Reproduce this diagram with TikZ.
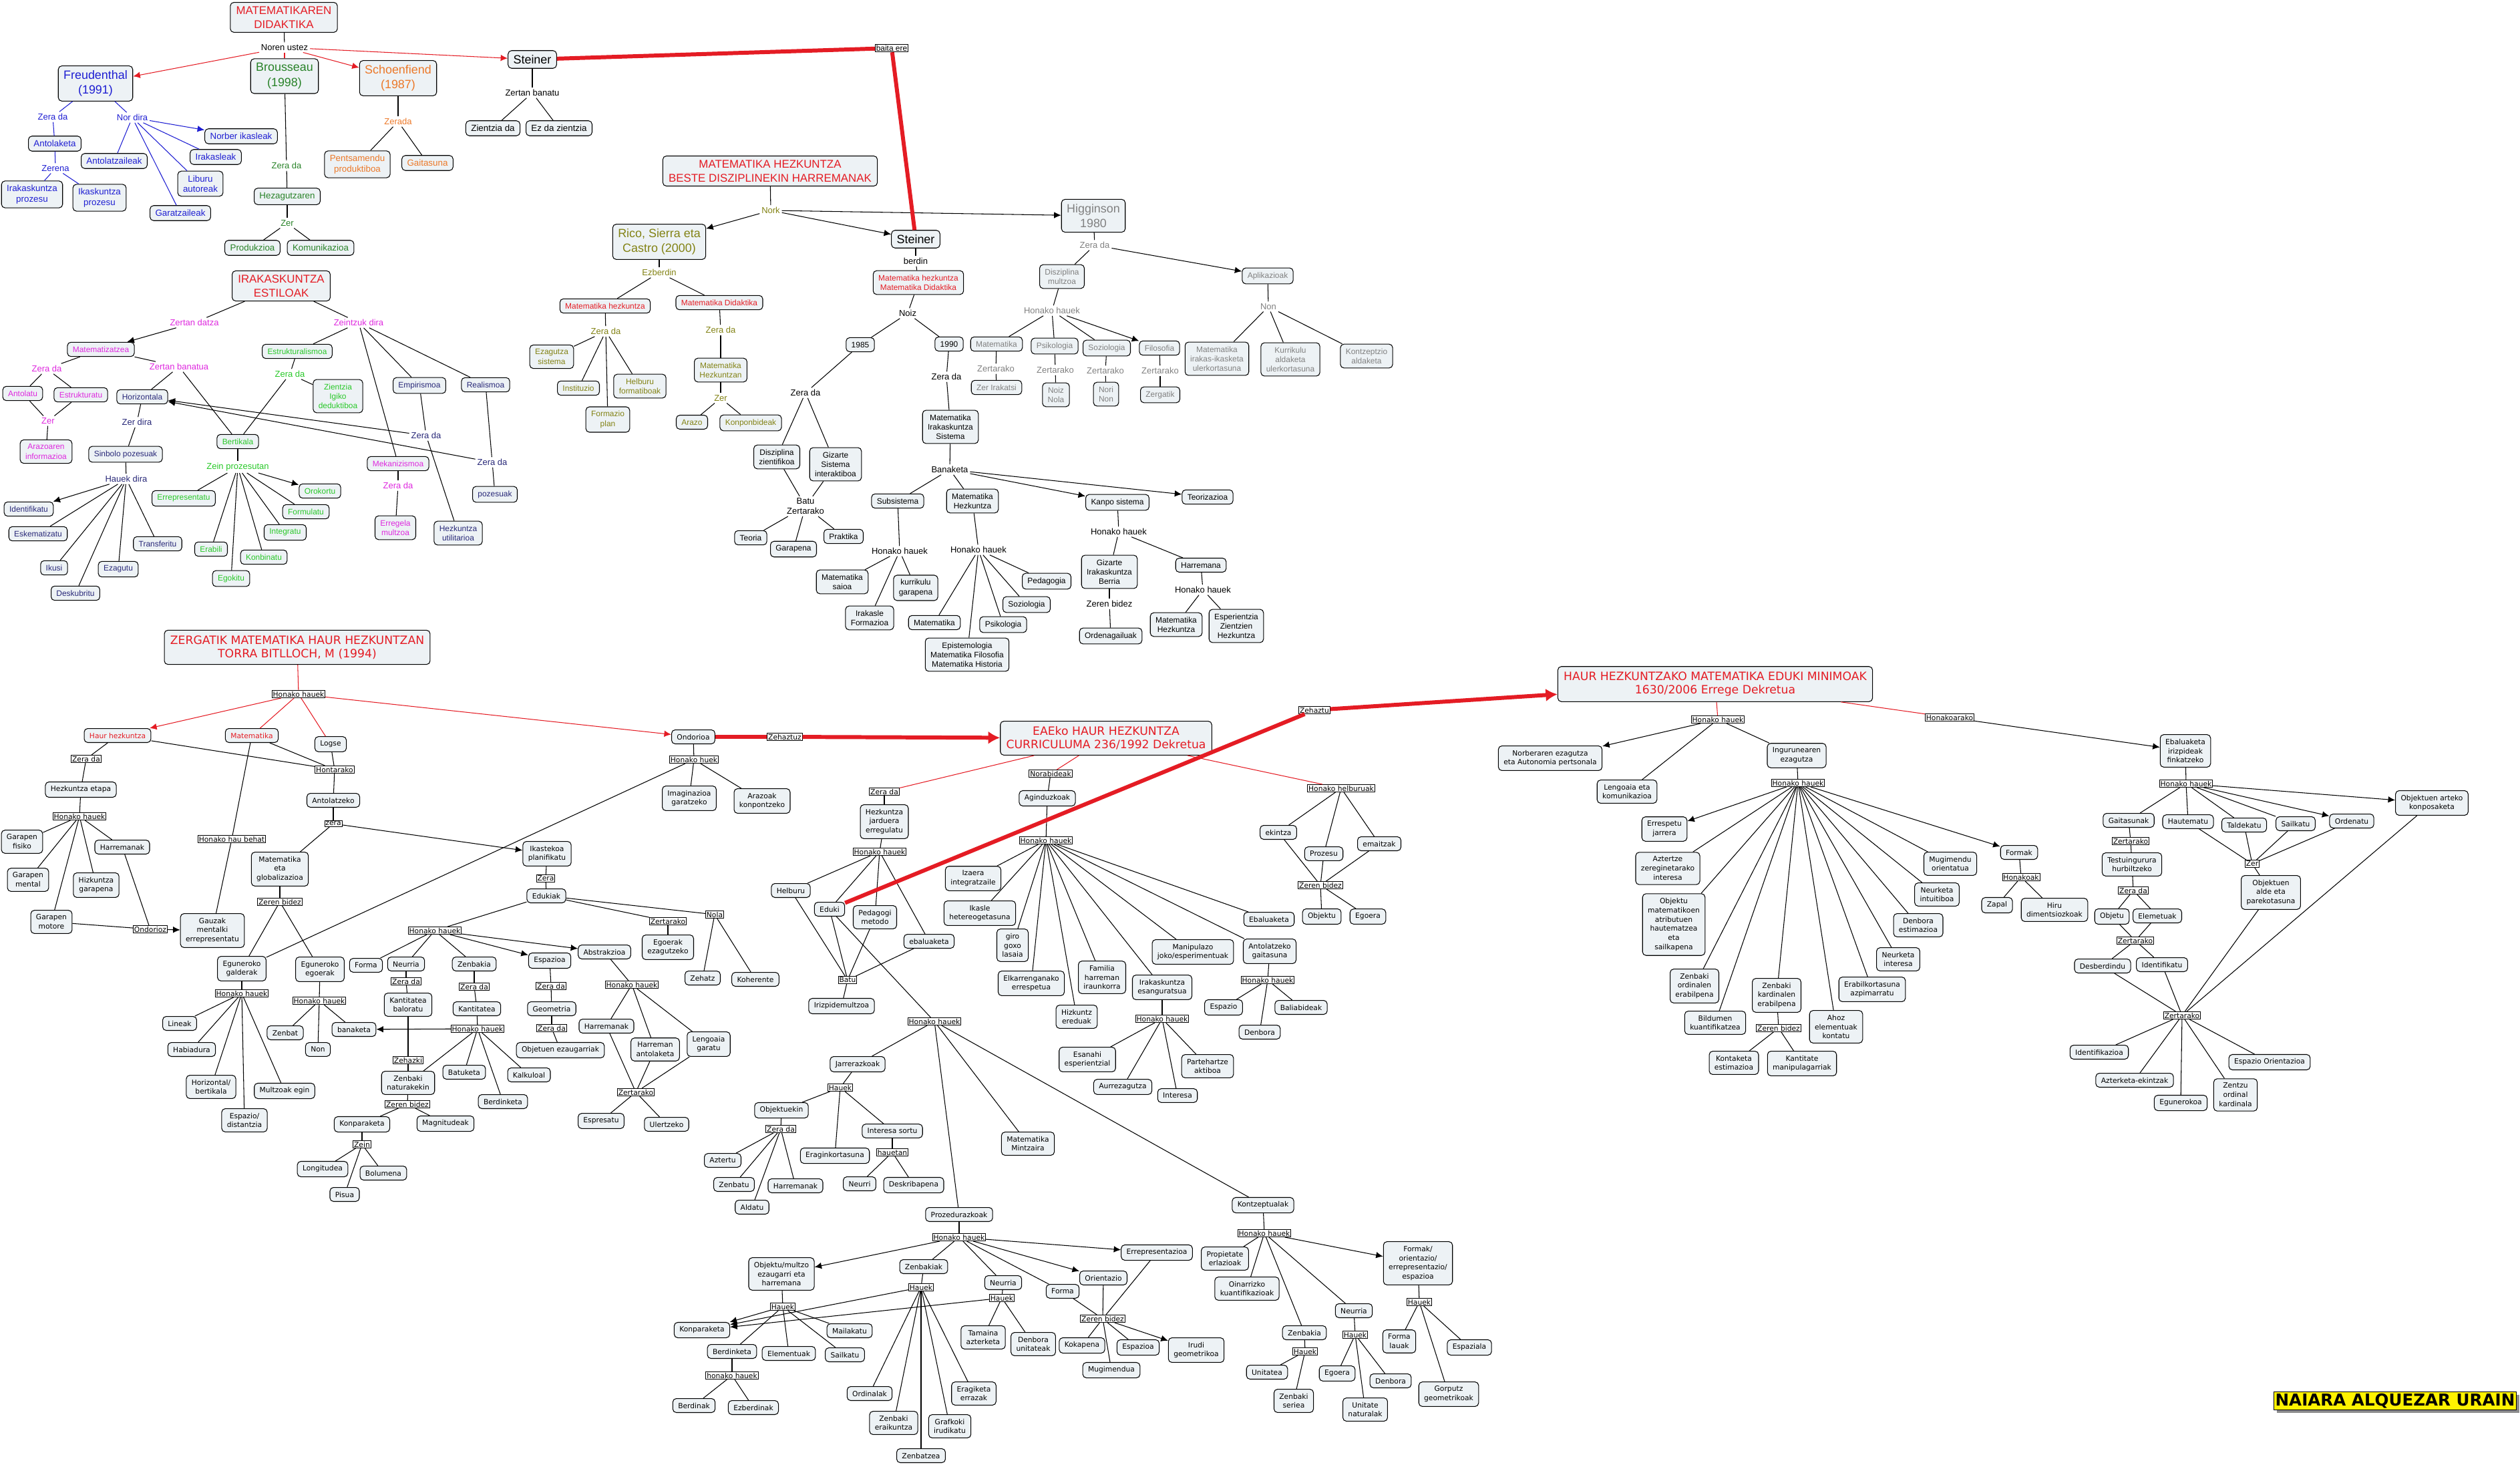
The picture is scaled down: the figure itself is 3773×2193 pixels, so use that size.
\documentclass[tikz,border=0pt]{standalone}
\usepackage{fontspec}
\setmainfont{Liberation Sans}
\newfontfamily\vfont{DejaVu Sans}
\usetikzlibrary{arrows.meta,shadows}

\definecolor{nodefill}{RGB}{237,242,245}
\definecolor{cred}{RGB}{228,28,36}
\definecolor{cblue}{RGB}{30,30,210}
\definecolor{cgreen}{RGB}{40,130,40}
\definecolor{corange}{RGB}{236,120,40}
\definecolor{colive}{RGB}{130,130,20}
\definecolor{cgray}{RGB}{128,128,128}
\definecolor{cmag}{RGB}{222,40,222}
\definecolor{clgreen}{RGB}{40,200,40}
\definecolor{cnavy}{RGB}{40,40,120}

\tikzset{
  cbox/.style={draw, line width=0.6pt, rounded corners=3pt, fill=nodefill, align=center, inner xsep=4.5pt, inner ysep=3.6pt},
  ttl/.style={cbox, text=cred, font=\fontsize{9.6}{11.9}\selectfont, inner xsep=5pt, inner ysep=3.5pt},
  vttl/.style={cbox, text=cred, font=\vfont\fontsize{9.8}{11.6}\selectfont, inner xsep=5pt, inner ysep=4.5pt},
  bigbox/.style={cbox, font=\fontsize{10.2}{12.9}\selectfont, inner ysep=3.8pt},
  sbox/.style={cbox, font=\fontsize{7.6}{8.6}\selectfont},
  nbox/.style={cbox, font=\fontsize{6.8}{8.1}\selectfont},
  vbox/.style={cbox, font=\vfont\fontsize{6.1}{7.9}\selectfont},
  lbl/.style={inner sep=1.5pt, align=center, font=\fontsize{7.4}{8.6}\selectfont},
  blbl/.style={draw, fill=white, line width=0.5pt, inner sep=0.8pt, font=\fontsize{6.8}{8}\selectfont},
  vlbl/.style={blbl, font=\vfont\fontsize{6.1}{7.5}\selectfont},
  ln/.style={line width=0.6pt},
  arr/.style={ln, -{Latex[length=6pt,width=5.5pt]}},
  rln/.style={ln, draw=cred},
  rarr/.style={rln, -{Latex[length=6pt,width=5.5pt]}},
  fat/.style={draw=cred, line width=3.4pt},
  fatarr/.style={fat, -{Latex[length=10pt,width=11pt]}},
  naiara/.style={draw, line width=0.6pt, fill=yellow, font=\vfont\bfseries\fontsize{14}{16}\selectfont, minimum width=7.25cm, minimum height=0.54cm, inner sep=0pt, drop shadow={shadow xshift=2.5pt, shadow yshift=-2.5pt, fill=black!45, opacity=1}}
}

\begin{document}
\begin{tikzpicture}[x=0.02cm, y=-0.02cm]
\useasboundingbox (0,0) rectangle (3773,2193);

\node[ttl] (md) at (425,26) {MATEMATIKAREN\\DIDAKTIKA};
\node[lbl] (nu) at (426,71) {Noren ustez};
\node[bigbox, text=cblue] (fr) at (143,125) {Freudenthal\\(1991)};
\node[bigbox, text=cgreen] (br) at (426,114) {Brousseau\\(1998)};
\node[bigbox, text=corange] (sc) at (596,117) {Schoenfiend\\(1987)};
\node[bigbox] (st1) at (797,89) {Steiner};
\node[lbl, text=cblue] (fzd) at (79,175) {Zera da};
\node[lbl, text=cblue] (fnd) at (198,176) {Nor dira};
\node[sbox, text=cblue] (antk) at (82,215) {Antolaketa};
\node[lbl, text=cblue] (zrn) at (83,252) {Zerena};
\node[sbox, text=cblue] (irp) at (48,291) {Irakaskuntza\\prozesu};
\node[sbox, text=cblue] (ikp) at (149,296) {Ikaskuntza\\prozesu};
\node[sbox, text=cblue] (nik) at (361,204) {Norber ikasleak};
\node[sbox, text=cblue] (irk) at (323,235) {Irakasleak};
\node[sbox, text=cblue] (atz) at (171,241) {Antolatzaileak};
\node[sbox, text=cblue] (lba) at (300,275) {Liburu\\autoreak};
\node[sbox, text=cblue] (grt) at (270,319) {Garatzaileak};
\node[lbl, text=cgreen] (bzd) at (429,248) {Zera da};
\node[sbox, text=cgreen] (hez) at (430,294) {Hezagutzaren};
\node[lbl, text=cgreen] (bzr) at (430,334) {Zer};
\node[sbox, text=cgreen] (prd) at (378,371) {Produkzioa};
\node[sbox, text=cgreen] (kom) at (480,371) {Komunikazioa};
\node[lbl, text=corange] (szd) at (596,182) {Zerada};
\node[sbox, text=corange] (pnt) at (535,246) {Pentsamendu\\produktiboa};
\node[sbox, text=corange] (gts) at (640,244) {Gaitasuna};
\node[lbl] (ztb) at (797,139) {Zertan banatu};
\node[sbox] (zda) at (738,192) {Zientzia da};
\node[sbox] (ezd) at (837,192) {Ez da zientzia};
\node[blbl] (bte) at (1335,72) {baita ere};

\node[ttl] (mh) at (1153,256) {MATEMATIKA HEZKUNTZA\\BESTE DISZIPLINEKIN HARREMANAK};
\node[lbl, text=colive] (nork) at (1154,315) {Nork};
\node[bigbox, text=colive] (rico) at (987,362) {Rico, Sierra eta\\Castro (2000)};
\node[bigbox] (st2) at (1371,358) {Steiner};
\node[bigbox, text=cgray] (hig) at (1637,323) {Higginson\\1980};
\node[lbl, text=colive] (ezb) at (987,408) {Ezberdin};
\node[nbox, text=cred] (mhz) at (906,458) {Matematika hezkuntza};
\node[nbox, text=cred] (mdd) at (1077,453) {Matematika Didaktika};
\node[lbl, text=colive] (rzd1) at (907,496) {Zera da};
\node[nbox, text=colive] (ezs) at (826,534) {Ezagutza\\sistema};
\node[nbox, text=colive] (ins) at (866,581) {Instituzio};
\node[nbox, text=colive] (hfo) at (958,578) {Helburu\\formatiboak};
\node[nbox, text=colive] (fpl) at (910,628) {Formazio\\plan};
\node[lbl, text=colive] (rzd2) at (1079,494) {Zera da};
\node[nbox, text=colive] (mhn) at (1079,554) {Matematika\\Hezkuntzan};
\node[lbl, text=colive] (rzr) at (1079,596) {Zer};
\node[nbox, text=colive] (arz) at (1036,632) {Arazo};
\node[nbox, text=colive] (kpb) at (1124,633) {Konponbideak};
\node[lbl] (brd) at (1371,391) {berdin};
\node[nbox, text=cred] (mhmd) at (1375,423) {Matematika hezkuntza\\Matematika Didaktika};
\node[lbl] (noiz) at (1359,469) {Noiz};
\node[nbox] (y85) at (1288,516) {1985};
\node[nbox] (y90) at (1421,515) {1990};
\node[lbl] (zd85) at (1206,588) {Zera da};
\node[nbox] (dzz) at (1163,684) {Disziplina\\zientifikoa};
\node[nbox] (gsi) at (1251,695) {Gizarte\\Sistema\\interaktiboa};
\node[lbl] (bz) at (1206,758) {Batu\\Zertarako};
\node[nbox] (teo) at (1124,805) {Teoria};
\node[nbox] (gar) at (1188,822) {Garapena};
\node[nbox] (pra) at (1263,803) {Praktika};
\node[lbl] (zd90) at (1417,564) {Zera da};
\node[nbox] (mis) at (1423,639) {Matematika\\Irakaskuntza\\Sistema};
\node[lbl] (ban) at (1422,703) {Banaketa};
\node[nbox] (sub) at (1344,750) {Subsistema};
\node[nbox] (mhz2) at (1456,750) {Matematika\\Hezkuntza};
\node[nbox] (kps) at (1673,752) {Kanpo sistema};
\node[nbox] (teor) at (1808,744) {Teorizazioa};
\node[lbl] (shh) at (1347,825) {Honako hauek};
\node[nbox] (msa) at (1261,871) {Matematika\\saioa};
\node[nbox] (kga) at (1371,880) {kurrikulu\\garapena};
\node[nbox] (ifo) at (1302,925) {Irakasle\\Formazioa};
\node[lbl] (mhh) at (1465,823) {Honako hauek};
\node[nbox] (ped) at (1567,870) {Pedagogia};
\node[nbox] (soz) at (1537,905) {Soziologia};
\node[nbox] (psi) at (1502,935) {Psikologia};
\node[nbox] (mat) at (1399,932) {Matematika};
\node[nbox] (epi) at (1448,980) {Epistemologia\\Matematika Filosofia\\Matematika Historia};
\node[lbl] (khh) at (1675,796) {Honako hauek};
\node[nbox] (gib) at (1661,856) {Gizarte\\Irakaskuntza\\Berria};
\node[lbl] (kzb) at (1661,904) {Zeren bidez};
\node[nbox] (ord) at (1663,952) {Ordenagailuak};
\node[nbox] (har) at (1798,846) {Harremana};
\node[lbl] (hhh) at (1801,883) {Honako hauek};
\node[nbox] (mhz3) at (1761,935) {Matematika\\Hezkuntza};
\node[nbox] (ezh) at (1851,937) {Esperientzia\\Zientzien\\Hezkuntza};
\node[lbl, text=cgray] (hzd) at (1639,367) {Zera da};
\node[nbox, text=cgray] (dmu) at (1590,414) {Disziplina\\multzoa};
\node[nbox, text=cgray] (apl) at (1898,413) {Aplikazioak};
\node[lbl, text=cgray] (hhk) at (1575,465) {Honako hauek};
\node[nbox, text=cgray] (hmat) at (1492,515) {Matematika};
\node[nbox, text=cgray] (hpsi) at (1579,518) {Psikologia};
\node[nbox, text=cgray] (hsoz) at (1657,521) {Soziologia};
\node[nbox, text=cgray] (hfil) at (1736,521) {Filosofia};
\node[lbl, text=cgray] (zt1) at (1491,552) {Zertarako};
\node[lbl, text=cgray] (zt2) at (1580,554) {Zertarako};
\node[lbl, text=cgray] (zt3) at (1655,555) {Zertarako};
\node[lbl, text=cgray] (zt4) at (1737,555) {Zertarako};
\node[nbox, text=cgray] (zir) at (1492,580) {Zer Irakatsi};
\node[nbox, text=cgray] (nno) at (1581,591) {Noiz\\Nola};
\node[nbox, text=cgray] (nnn) at (1656,590) {Nori\\Non};
\node[nbox, text=cgray] (zgt) at (1737,591) {Zergatik};
\node[lbl, text=cgray] (non) at (1899,459) {Non};
\node[nbox, text=cgray] (mik) at (1822,537) {Matematika\\irakas-ikasketa\\ulerkortasuna};
\node[nbox, text=cgray] (kal) at (1932,538) {Kurrikulu\\aldaketa\\ulerkortasuna};
\node[nbox, text=cgray] (kta) at (2046,533) {Kontzeptzio\\aldaketa};

\node[ttl] (ie) at (421,428) {IRAKASKUNTZA\\ESTILOAK};
\node[lbl, text=cmag] (ztd) at (291,483) {Zertan datza};
\node[lbl, text=cmag] (zkd) at (537,483) {Zeintzuk dira};
\node[nbox, text=cmag] (mtz) at (151,523) {Matematizatzea};
\node[lbl, text=cmag] (mzd) at (70,552) {Zera da};
\node[lbl, text=cmag] (ztb2) at (268,549) {Zertan banatua};
\node[nbox, text=cmag] (ant) at (34,589) {Antolatu};
\node[nbox, text=cmag] (est) at (121,591) {Estrukturatu};
\node[lbl, text=cmag] (mzr) at (72,630) {Zer};
\node[nbox, text=cmag] (arin) at (69,676) {Arazoaren\\informazioa};
\node[nbox, text=cnavy] (hor) at (213,594) {Horizontala};
\node[lbl, text=cnavy] (zdi) at (205,632) {Zer dira};
\node[nbox, text=cnavy] (sp) at (188,680) {Sinbolo pozesuak};
\node[lbl, text=cnavy] (hd) at (189,717) {Hauek dira};
\node[nbox, text=cnavy] (idf) at (43,762) {Identifikatu};
\node[nbox, text=cnavy] (esk) at (57,799) {Eskematizatu};
\node[nbox, text=cnavy] (iku) at (81,850) {Ikusi};
\node[nbox, text=cnavy] (eza) at (177,852) {Ezagutu};
\node[nbox, text=cnavy] (dsk) at (113,888) {Deskubritu};
\node[nbox, text=cnavy] (trf) at (236,814) {Transferitu};
\node[nbox, text=clgreen] (estr) at (445,526) {Estrukturalismoa};
\node[lbl, text=clgreen] (gzd) at (434,560) {Zera da};
\node[nbox, text=clgreen] (zid) at (506,593) {Zientzia\\Igiko\\deduktiboa};
\node[nbox, text=clgreen] (ber) at (356,661) {Bertikala};
\node[lbl, text=clgreen] (zpr) at (356,699) {Zein prozesutan};
\node[nbox, text=clgreen] (err) at (275,746) {Errepresentatu};
\node[nbox, text=clgreen] (oro) at (479,735) {Orokortu};
\node[nbox, text=clgreen] (frm) at (458,766) {Formulatu};
\node[nbox, text=clgreen] (int) at (427,797) {Integratu};
\node[nbox, text=clgreen] (era) at (316,822) {Erabili};
\node[nbox, text=clgreen] (kon) at (395,834) {Konbinatu};
\node[nbox, text=clgreen] (ego) at (346,866) {Egokitu};
\node[nbox, text=cnavy] (emp) at (628,577) {Empirismoa};
\node[nbox, text=cnavy] (rea) at (727,576) {Realismoa};
\node[nbox, text=cmag] (mek) at (596,694) {Mekanizismoa};
\node[lbl, text=cmag] (kzd) at (596,727) {Zera da};
\node[nbox, text=cmag] (erm) at (592,790) {Erregela\\multzoa};
\node[lbl, text=cnavy] (ezd1) at (638,652) {Zera da};
\node[nbox, text=cnavy] (hut) at (686,798) {Hezkuntza\\utilitarioa};
\node[lbl, text=cnavy] (ezd2) at (737,692) {Zera da};
\node[nbox, text=cnavy] (poz) at (741,740) {pozesuak};

\node[vttl] (zg) at (445,969) {ZERGATIK MATEMATIKA HAUR HEZKUNTZAN\\TORRA BITLLOCH, M (1994)};
\node[vlbl] (zhh) at (447,1039) {Honako hauek};
\node[vbox, text=cred] (hh) at (176,1101) {Haur hezkuntza};
\node[vbox, text=cred] (zmat) at (377,1101) {Matematika};
\node[vbox] (lgs) at (495,1114) {Logse};
\node[vbox] (ondo) at (1038,1103) {Ondorioa};
\node[vlbl] (hta) at (501,1152) {Hontarako};
\node[vbox] (atk) at (499,1198) {Antolatzeko};
\node[vlbl] (zera) at (499,1233) {zera};
\node[vlbl] (zzd) at (129,1136) {Zera da};
\node[vbox] (het) at (121,1182) {Hezkuntza etapa};
\node[vlbl] (hhk2) at (119,1222) {Honako hauek};
\node[vbox] (gfi) at (33,1260) {Garapen\\fisiko};
\node[vbox] (gme) at (42,1317) {Garapen\\mental};
\node[vbox] (hga) at (144,1325) {Hizkuntza\\garapena};
\node[vbox] (hrm) at (183,1268) {Harremanak};
\node[vbox] (gmo) at (77,1380) {Garapen\\motore};
\node[vlbl] (ondz) at (225,1391) {Ondorioz};
\node[vbox] (gme2) at (318,1393) {Gauzak\\mentalki\\errepresentatu};
\node[vlbl] (hhb) at (347,1256) {Honako hau behat};
\node[vbox] (meg) at (419,1301) {Matematika\\eta\\globalizazioa};
\node[vlbl] (zb1) at (419,1350) {Zeren bidez};
\node[vbox] (egg) at (362,1450) {Eguneroko\\galderak};
\node[vbox] (ege) at (479,1451) {Eguneroko\\egoerak};
\node[vlbl] (ghh) at (362,1487) {Honako hauek};
\node[vbox] (lin) at (269,1532) {Lineak};
\node[vbox] (hab) at (287,1571) {Habiadura};
\node[vbox] (hbe) at (316,1627) {Horizontal/\\bertikala};
\node[vbox] (edi) at (366,1677) {Espazio/\\distantzia};
\node[vbox] (mue) at (426,1633) {Multzoak egin};
\node[vlbl] (ehh) at (478,1498) {Honako hauek};
\node[vbox] (zbt) at (427,1546) {Zenbat};
\node[vbox] (non2) at (476,1571) {Non};
\node[vbox] (bnk) at (530,1541) {banaketa};
\node[vlbl] (ohk) at (1039,1137) {Honako huek};
\node[vbox] (img) at (1032,1195) {Imaginazioa\\garatzeko};
\node[vbox] (akp) at (1141,1199) {Arazoak\\konpontzeko};
\node[vbox] (ikp2) at (819,1278) {Ikastekoa\\planifikatu};
\node[vlbl] (zera2) at (817,1315) {Zera};
\node[vbox] (edk) at (818,1341) {Edukiak};
\node[vlbl] (ehk) at (651,1393) {Honako hauek};
\node[vlbl] (ezt) at (1000,1379) {Zertarako};
\node[vlbl] (nola) at (1070,1369) {Nola};
\node[vbox] (eez) at (1000,1418) {Egoerak\\ezagutzeko};
\node[vbox] (zht) at (1052,1464) {Zehatz};
\node[vbox] (koh) at (1131,1466) {Koherente};
\node[vbox] (fma) at (548,1445) {Forma};
\node[vbox] (neu) at (608,1443) {Neurria};
\node[vbox] (zbk) at (710,1443) {Zenbakia};
\node[vbox] (esp) at (823,1438) {Espazioa};
\node[vbox] (abs) at (905,1425) {Abstrakzioa};
\node[vlbl] (nzd) at (608,1469) {Zera da};
\node[vbox] (kba) at (611,1504) {Kantitatea\\baloratu};
\node[vlbl] (kzd2) at (710,1477) {Zera da};
\node[vbox] (ktt) at (714,1510) {Kantitatea};
\node[vlbl] (khk) at (715,1540) {Honako hauek};
\node[vbox] (btk) at (695,1605) {Batuketa};
\node[vbox] (klk) at (792,1609) {Kalkuloal};
\node[vbox] (bdk) at (753,1649) {Berdinketa};
\node[vlbl] (zhz) at (611,1587) {Zehazki};
\node[vbox] (znt) at (611,1621) {Zenbaki\\naturakekin};
\node[vlbl] (zb2) at (610,1653) {Zeren bidez};
\node[vbox] (kpr) at (542,1683) {Konparaketa};
\node[vbox] (mgn) at (667,1682) {Magnitudeak};
\node[vlbl] (zein) at (542,1713) {Zein};
\node[vbox] (lng) at (483,1750) {Longitudea};
\node[vbox] (pis) at (516,1788) {Pisua};
\node[vbox] (bol) at (574,1756) {Bolumena};
\node[vlbl] (ezd3) at (825,1476) {Zera da};
\node[vbox] (geo) at (826,1510) {Geometria};
\node[vlbl] (gzd2) at (826,1539) {Zera da};
\node[vbox] (obe) at (839,1572) {Objetuen ezaugarriak};
\node[vlbl] (ahk) at (946,1474) {Honako hauek};
\node[vbox] (ahr) at (908,1536) {Harremanak};
\node[vbox] (han) at (981,1571) {Harreman\\antolaketa};
\node[vbox] (lgg) at (1061,1563) {Lengoaia\\garatu};
\node[vlbl] (azt) at (952,1635) {Zertarako};
\node[vbox] (esr) at (900,1678) {Espresatu};
\node[vbox] (ulr) at (998,1683) {Ulertzeko};

\node[vlbl] (zhtz) at (1175,1103) {Zehaztuz};
\node[vttl] (eae) at (1656,1105) {EAEko HAUR HEZKUNTZA\\CURRICULUMA 236/1992 Dekretua};
\node[vlbl] (ezd4) at (1324,1185) {Zera da};
\node[vbox] (hje) at (1324,1230) {Hezkuntza\\jarduera\\erregulatu};
\node[vlbl] (jhh) at (1317,1275) {Honako hauek};
\node[vbox] (hlb) at (1184,1333) {Helburu};
\node[vbox] (edu) at (1242,1361) {Eduki};
\node[vbox] (pme) at (1310,1373) {Pedagogi\\metodo};
\node[vbox] (eba) at (1391,1409) {ebaluaketa};
\node[vlbl] (batu) at (1269,1467) {Batu};
\node[vbox] (irz) at (1260,1506) {Irizpidemultzoa};
\node[vlbl] (dhh) at (1399,1529) {Honako hauek};
\node[vlbl] (nrb) at (1573,1158) {Norabideak};
\node[vbox] (agi) at (1568,1195) {Aginduzkoak};
\node[vlbl] (ahh) at (1566,1258) {Honako hauek};
\node[vbox] (izi) at (1457,1315) {Izaera\\integratzaile};
\node[vbox] (ikh) at (1467,1367) {Ikasle\\hetereogetasuna};
\node[vbox] (ggl) at (1516,1415) {giro\\goxo\\lasaia};
\node[vbox] (elk) at (1544,1472) {Elkarrenganako\\errespetua};
\node[vbox] (hze) at (1612,1522) {Hizkuntz\\ereduak};
\node[vbox] (fhi) at (1650,1463) {Familia\\harreman\\iraunkorra};
\node[vbox] (ies) at (1740,1478) {Irakaskuntza\\esanguratsua};
\node[vbox] (mje) at (1786,1425) {Manipulazo\\joko/esperimentuak};
\node[vlbl] (ihh) at (1740,1525) {Honako hauek};
\node[vbox] (ese) at (1628,1586) {Esanahi\\esperientzial};
\node[vbox] (aur) at (1681,1627) {Aurrezagutza};
\node[vbox] (itr) at (1763,1640) {Interesa};
\node[vbox] (pak) at (1808,1596) {Partehartze\\aktiboa};

\node[vbox] (jar) at (1284,1593) {Jarrerazkoak};
\node[vlbl] (jhk) at (1258,1628) {Hauek};
\node[vbox] (obk) at (1170,1662) {Objektuekin};
\node[vlbl] (ozd) at (1169,1690) {Zera da};
\node[vbox] (erg) at (1250,1730) {Eraginkortasuna};
\node[vbox] (iso) at (1336,1693) {Interesa sortu};
\node[vlbl] (hau) at (1336,1725) {hauetan};
\node[vbox] (azr) at (1082,1737) {Aztertu};
\node[vbox] (zbu) at (1099,1773) {Zenbatu};
\node[vbox] (hrm2) at (1191,1775) {Harremanak};
\node[vbox] (ald) at (1126,1807) {Aldatu};
\node[vbox] (neur) at (1287,1772) {Neurri};
\node[vbox] (dsb) at (1368,1774) {Deskribapena};
\node[vbox] (mmz) at (1539,1712) {Matematika\\Mintzaira};
\node[vbox] (pzk) at (1436,1818) {Prozedurazkoak};
\node[vlbl] (phh) at (1436,1852) {Honako hauek};
\node[vbox] (omh) at (1170,1907) {Objektu/multzo\\ezaugarri eta\\harremana};
\node[vlbl] (ohu) at (1172,1956) {Hauek};
\node[vbox] (kpk) at (1051,1991) {Konparaketa};
\node[vbox] (mlk) at (1272,1992) {Mailakatu};
\node[vbox] (bdk2) at (1096,2023) {Berdinketa};
\node[vbox] (elm) at (1181,2026) {Elementuak};
\node[vbox] (slk) at (1265,2028) {Sailkatu};
\node[vlbl] (bhh) at (1096,2059) {honako hauek};
\node[vbox] (bdn) at (1039,2104) {Berdinak};
\node[vbox] (ebd) at (1128,2107) {Ezberdinak};
\node[vbox] (zbks) at (1383,1896) {Zenbakiak};
\node[vlbl] (zhu) at (1379,1927) {Hauek};
\node[vbox] (orn) at (1302,2086) {Ordinalak};
\node[vbox] (zer) at (1338,2130) {Zenbaki\\eraikuntza};
\node[vbox] (zbz) at (1379,2179) {Zenbatzea};
\node[vbox] (gri) at (1422,2135) {Grafkoki\\irudikatu};
\node[vbox] (eer) at (1458,2086) {Eragiketa\\errazak};
\node[vbox] (nra) at (1502,1920) {Neurria};
\node[vlbl] (nhu) at (1500,1943) {Hauek};
\node[vbox] (taz) at (1472,2002) {Tamaina\\azterketa};
\node[vbox] (dun) at (1547,2012) {Denbora\\unitateak};
\node[vbox] (fmb) at (1591,1933) {Forma};
\node[vbox] (ori) at (1652,1913) {Orientazio};
\node[vbox] (erp) at (1732,1875) {Errepresentazioa};
\node[vlbl] (fzb) at (1651,1974) {Zeren bidez};
\node[vbox] (kok) at (1620,2014) {Kokapena};
\node[vbox] (espa) at (1704,2017) {Espazioa};
\node[vbox] (irg) at (1791,2021) {Irudi\\geometrikoa};
\node[vbox] (mug) at (1664,2051) {Mugimendua};
\node[vbox] (kzp) at (1891,1804) {Kontzeptualak};
\node[vlbl] (khu) at (1893,1846) {Honako hauek};
\node[vbox] (per) at (1834,1884) {Propietate\\erlazioak};
\node[vbox] (oku) at (1867,1929) {Oinarrizko\\kuantifikazioak};
\node[vbox] (zbka) at (1953,1995) {Zenbakia};
\node[vlbl] (zkh) at (1954,2023) {Hauek};
\node[vbox] (uni) at (1897,2054) {Unitatea};
\node[vbox] (zse) at (1937,2097) {Zenbaki\\seriea};
\node[vbox] (nrb2) at (2027,1962) {Neurria};
\node[vlbl] (nkh) at (2029,1998) {Hauek};
\node[vbox] (egr) at (2002,2056) {Egoera};
\node[vbox] (dnb) at (2082,2067) {Denbora};
\node[vbox] (una) at (2044,2110) {Unitate\\naturalak};
\node[vbox] (foe) at (2123,1891) {Formak/\\orientazio/\\errepresentazio/\\espazioa};
\node[vlbl] (fhu) at (2125,1949) {Hauek};
\node[vbox] (fla) at (2095,2008) {Forma\\lauak};
\node[vbox] (esl) at (2200,2017) {Espaziala};
\node[vbox] (gge) at (2169,2087) {Gorputz\\geometrikoak};

\node[vlbl] (zhd) at (1968,1063) {Zehaztu};
\node[vlbl] (hhb2) at (2008,1180) {Honako helburuak};
\node[vbox] (ekn) at (1914,1246) {ekintza};
\node[vbox] (prz) at (1982,1278) {Prozesu};
\node[vbox] (emt) at (2065,1263) {emaitzak};
\node[vlbl] (hzb) at (1977,1325) {Zeren bidez};
\node[vbox] (obj) at (1979,1372) {Objektu};
\node[vbox] (egoe) at (2048,1372) {Egoera};
\node[vbox] (ebk) at (1900,1376) {Ebaluaketa};
\node[vbox] (agt) at (1901,1424) {Antolatzeko\\gaitasuna};
\node[vlbl] (ghk) at (1898,1467) {Honako hauek};
\node[vbox] (espz) at (1832,1508) {Espazio};
\node[vbox] (dnbr) at (1886,1545) {Denbora};
\node[vbox] (blb) at (1948,1508) {Baliabideak};

\node[vttl] (hhm) at (2568,1024) {HAUR HEZKUNTZAKO MATEMATIKA EDUKI MINIMOAK\\1630/2006 Errege Dekretua};
\node[vlbl] (mhk) at (2572,1077) {Honako hauek};
\node[vbox] (nea) at (2321,1135) {Norberaren ezagutza\\eta Autonomia pertsonala};
\node[vbox] (lek) at (2436,1185) {Lengoaia eta\\komunikazioa};
\node[vbox] (ine) at (2690,1131) {Ingurunearen\\ezagutza};
\node[vlbl] (ihk) at (2692,1172) {Honako hauek};
\node[vbox] (erj) at (2492,1241) {Errespetu\\jarrera};
\node[vbox] (azi) at (2497,1300) {Aztertze\\zereginetarako\\interesa};
\node[vbox] (oma) at (2506,1384) {Objektu\\matematikoen\\atributuen\\hautematzea\\eta\\sailkapena};
\node[vbox] (zoe) at (2537,1476) {Zenbaki\\ordinalen\\erabilpena};
\node[vbox] (bku) at (2568,1531) {Bildumen\\kuantifikatzea};
\node[vbox] (zke) at (2660,1490) {Zenbaki\\kardinalen\\erabilpena};
\node[vlbl] (kzb2) at (2663,1539) {Zeren bidez};
\node[vbox] (kes) at (2596,1591) {Kontaketa\\estimazioa};
\node[vbox] (kma) at (2698,1592) {Kantitate\\manipulagarriak};
\node[vbox] (aek) at (2749,1537) {Ahoz\\elementuak\\kontatu};
\node[vbox] (eaz) at (2803,1481) {Erabilkortasuna\\azpimarratu};
\node[vbox] (nin) at (2842,1436) {Neurketa\\interesa};
\node[vbox] (des) at (2872,1385) {Denbora\\estimazioa};
\node[vbox] (nit) at (2900,1339) {Neurketa\\intuitiboa};
\node[vbox] (mor) at (2920,1293) {Mugimendu\\orientatua};
\node[vbox] (frk) at (3023,1276) {Formak};
\node[vlbl] (hnk) at (3026,1313) {Honakoak};
\node[vbox] (zpl) at (2990,1355) {Zapal};
\node[vbox] (hdi) at (3076,1362) {Hiru\\dimentsiozkoak};
\node[vlbl] (hka) at (2919,1074) {Honakoarako};
\node[vbox] (eif) at (3272,1124) {Ebaluaketa\\irizpideak\\finkatzeko};
\node[vlbl] (ehu) at (3273,1173) {Honako hauek};
\node[vbox] (gtn) at (3187,1228) {Gaitasunak};
\node[vbox] (hau2) at (3276,1230) {Hautematu};
\node[vbox] (tdk) at (3360,1235) {Taldekatu};
\node[vbox] (slt) at (3437,1233) {Sailkatu};
\node[vbox] (ode) at (3521,1229) {Ordenatu};
\node[vbox] (oak) at (3641,1202) {Objektuen arteko\\konposaketa};
\node[vlbl] (zer2) at (3372,1293) {Zer};
\node[vbox] (oap) at (3400,1336) {Objektuen\\alde eta\\parekotasuna};
\node[vlbl] (gzt) at (3190,1259) {Zertarako};
\node[vbox] (thu) at (3192,1294) {Testuingurura\\hurbiltzeko};
\node[vlbl] (tzd) at (3194,1333) {Zera da};
\node[vbox] (obt) at (3162,1372) {Objetu};
\node[vbox] (elt) at (3230,1371) {Elemetuak};
\node[vlbl] (ezt2) at (3197,1408) {Zertarako};
\node[vbox] (dsd) at (3148,1446) {Desberdindu};
\node[vbox] (idk) at (3237,1444) {Identifikatu};
\node[vlbl] (fzt) at (3267,1520) {Zertarako};
\node[vbox] (idz) at (3143,1575) {Identifikazioa};
\node[vbox] (aek2) at (3196,1617) {Azterketa-ekintzak};
\node[vbox] (egk) at (3265,1651) {Egunerokoa};
\node[vbox] (zok) at (3347,1639) {Zentzu\\ordinal\\kardinala};
\node[vbox] (eso) at (3398,1590) {Espazio Orientazioa};
\node[naiara] (nau) at (3586,2097) {NAIARA ALQUEZAR URAIN};

\foreach \a/\b in {md/nu, br/bzd, bzd/hez, hez/bzr, bzr/prd, bzr/kom, sc/szd, szd/pnt, szd/gts, st1/ztb, ztb/zda, ztb/ezd,
  mh/nork, rico/ezb, ezb/mhz, ezb/mdd, mhz/rzd1, rzd1/ezs, rzd1/ins, rzd1/hfo, rzd1/fpl, mdd/rzd2, rzd2/mhn, mhn/rzr, rzr/arz, rzr/kpb,
  st2/brd, brd/mhmd, mhmd/noiz, noiz/y85, noiz/y90, y85/zd85, zd85/dzz, zd85/gsi, dzz/bz, gsi/bz, bz/teo, bz/gar, bz/pra,
  y90/zd90, zd90/mis, mis/ban, ban/sub, ban/mhz2, sub/shh, shh/msa, shh/kga, shh/ifo, mhz2/mhh, mhh/ped, mhh/soz, mhh/psi, mhh/mat, mhh/epi,
  kps/khh, khh/gib, khh/har, gib/kzb, kzb/ord, har/hhh, hhh/mhz3, hhh/ezh,
  hig/hzd, hzd/dmu, dmu/hhk, hhk/hmat, hhk/hpsi, hhk/hsoz, hmat/zt1, zt1/zir, hpsi/zt2, zt2/nno, hsoz/zt3, zt3/nnn, hfil/zt4, zt4/zgt, apl/non, non/mik, non/kal, non/kta,
  ie/ztd, ie/zkd, zkd/estr, zkd/mek, zkd/emp, zkd/rea, mtz/mzd, mzd/ant, mzd/est, ant/mzr, est/mzr, mzr/arin, mtz/ztb2, ztb2/hor, ztb2/ber,
  hor/zdi, zdi/sp, sp/hd, hd/esk, hd/iku, hd/eza, hd/dsk, hd/trf, estr/gzd, gzd/zid, gzd/ber, ber/zpr, zpr/err, zpr/frm, zpr/int, zpr/era, zpr/kon, zpr/ego,
  emp/ezd1, ezd1/hut, rea/ezd2, ezd2/poz, mek/kzd, kzd/erm}
  \draw[ln] (\a) -- (\b);
\foreach \a/\b in {fr/fzd, fzd/antk, antk/zrn, zrn/irp, zrn/ikp, fr/fnd, fnd/irk, fnd/atz, fnd/lba, fnd/grt}
  \draw[ln, cblue] (\a) -- (\b);
\draw[arr, cblue] (fnd) -- (nik);
\draw[rln] (nu) -- (br);
\foreach \a/\b in {nu/fr, nu/sc, nu/st1}
  \draw[rarr] (\a) -- (\b);
\foreach \a/\b in {nork/rico, nork/st2, nork/hig, ban/kps, ban/teor, hzd/apl, hhk/hfil, ztd/mtz, hd/idf, zpr/oro, ezd1/hor, ezd2/hor}
  \draw[arr] (\a) -- (\b);

\foreach \a/\b in {zg/zhh, zhh/zmat, zhh/lgs, eae/ezd4, eae/nrb, eae/hhb2, hhm/mhk, hhm/hka}
  \draw[rln] (\a) -- (\b);
\foreach \a/\b in {zhh/hh, zhh/ondo}
  \draw[rarr] (\a) -- (\b);
\foreach \a/\b in {hh/hta, zmat/hta, lgs/hta, hta/atk, atk/zera, zera/meg, hh/zzd, zzd/het, het/hhk2, hhk2/gfi, hhk2/gme, hhk2/gmo, hhk2/hga, hhk2/hrm,
  hrm/ondz, gmo/ondz, zmat/hhb, hhb/gme2, meg/zb1, zb1/egg, zb1/ege, egg/ghh, ghh/lin, ghh/hab, ghh/hbe, ghh/edi, ghh/mue, ege/ehh, ehh/zbt, ehh/non2, ehh/bnk,
  ondo/ohk, ohk/img, ohk/akp, ohk/egg, ikp2/zera2, zera2/edk, edk/ehk, ehk/fma, ehk/neu, ehk/zbk, edk/ezt, ezt/eez, edk/nola, nola/zht, nola/koh,
  neu/nzd, nzd/kba, kba/zhz, zhz/znt, znt/zb2, zb2/kpr, zb2/mgn, kpr/zein, zein/lng, zein/pis, zein/bol, zbk/kzd2, kzd2/ktt, ktt/khk, khk/znt, khk/btk, khk/bdk, khk/klk,
  esp/ezd3, ezd3/geo, geo/gzd2, gzd2/obe, abs/ahk, ahk/ahr, ahk/han, ahk/lgg, ahr/azt, han/azt, lgg/azt, azt/esr, azt/ulr,
  ezd4/hje, hje/jhh, jhh/hlb, jhh/edu, jhh/pme, jhh/eba, hlb/batu, edu/batu, pme/batu, eba/batu, batu/irz, edu/dhh, dhh/jar, dhh/pzk, dhh/mmz, dhh/kzp,
  nrb/agi, agi/ahh, ahh/izi, ahh/ikh, ahh/ggl, ahh/elk, ahh/hze, ahh/fhi, ahh/ies, ahh/mje, ahh/agt, ahh/ebk, ies/ihh, ihh/ese, ihh/aur, ihh/itr, ihh/pak, agt/ghk, ghk/espz, ghk/dnbr, ghk/blb,
  jar/jhk, jhk/obk, jhk/erg, jhk/iso, obk/ozd, ozd/azr, ozd/zbu, ozd/ald, ozd/hrm2, iso/hau, hau/neur, hau/dsb, pzk/phh, phh/zbks, phh/nra, phh/fmb,
  omh/ohu, ohu/mlk, ohu/bdk2, ohu/elm, ohu/slk, bdk2/bhh, bhh/bdn, bhh/ebd, zbks/zhu, zhu/orn, zhu/zer, zhu/zbz, zhu/gri, zhu/eer, nra/nhu, nhu/taz, nhu/dun,
  fmb/fzb, ori/fzb, erp/fzb, fzb/kok, fzb/espa, fzb/mug, kzp/khu, khu/per, khu/oku, khu/zbka, khu/nrb2, zbka/zkh, zkh/uni, zkh/zse, nrb2/nkh, nkh/egr, nkh/dnb, nkh/una,
  foe/fhu, fhu/fla, fhu/esl, fhu/gge,
  hhb2/ekn, hhb2/prz, hhb2/emt, ekn/hzb, prz/hzb, emt/hzb, hzb/obj, hzb/egoe, mhk/lek, mhk/ine, ine/ihk, ihk/azi, ihk/oma, ihk/zoe, ihk/bku, ihk/zke, ihk/aek, ihk/eaz,
  ihk/nin, ihk/des, ihk/nit, ihk/mor, zke/kzb2, kzb2/kes, kzb2/kma, frk/hnk, hnk/zpl, hnk/hdi, eif/ehu, ehu/gtn, ehu/hau2, ehu/tdk, ehu/slt,
  hau2/zer2, tdk/zer2, slt/zer2, ode/zer2, zer2/oap, gtn/gzt, gzt/thu, thu/tzd, tzd/obt, tzd/elt, obt/ezt2, elt/ezt2, ezt2/dsd, ezt2/idk,
  dsd/fzt, idk/fzt, oap/fzt, oak/fzt, fzt/idz, fzt/aek2, fzt/egk, fzt/zok, fzt/eso}
  \draw[ln] (\a) -- (\b);
\foreach \a/\b in {zera/ikp2, ondz/gme2, ehk/esp, ehk/abs, khk/bnk, phh/omh, phh/ori, phh/erp, ohu/kpk, zhu/kpk, nhu/kpk, fzb/irg, khu/foe,
  mhk/nea, ihk/erj, ihk/frk, hka/eif, ehu/ode, ehu/oak}
  \draw[arr] (\a) -- (\b);

\draw[fat] (st1) -- (bte);
\draw[fat] (bte) -- (st2);
\draw[fat] (ondo) -- (zhtz);
\draw[fatarr] (zhtz) -- (eae);
\draw[fat] (edu) -- (zhd);
\draw[fatarr] (zhd) -- (hhm);
\end{tikzpicture}
\end{document}
